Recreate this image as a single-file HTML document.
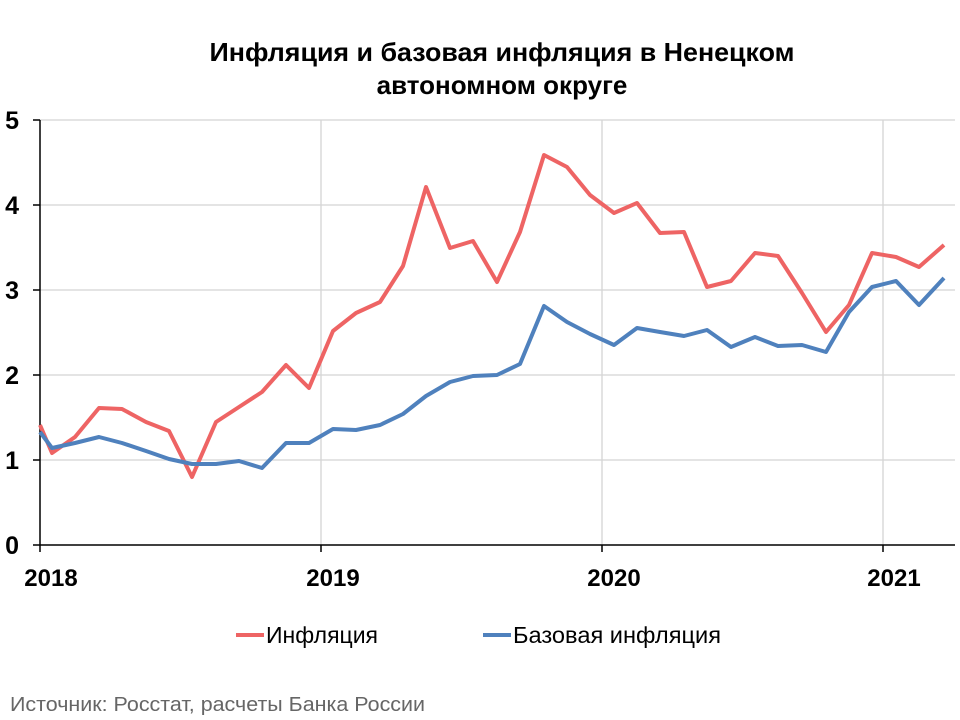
<!DOCTYPE html><html><head><meta charset="utf-8"><style>body{margin:0;background:#fff}svg{display:block}</style></head><body>
<svg width="960" height="720" xmlns="http://www.w3.org/2000/svg" font-family="Liberation Sans, sans-serif">
<text x="502" y="61" font-size="26" font-weight="bold" text-anchor="middle" textLength="585" lengthAdjust="spacingAndGlyphs">Инфляция и базовая инфляция в Ненецком</text>
<text x="502" y="94" font-size="26" font-weight="bold" text-anchor="middle">автономном округе</text>
<g stroke="#d4d4d4" stroke-width="1.3">
<line x1="40" y1="460" x2="955" y2="460"/><line x1="40" y1="375" x2="955" y2="375"/><line x1="40" y1="290" x2="955" y2="290"/><line x1="40" y1="205" x2="955" y2="205"/><line x1="40" y1="120" x2="955" y2="120"/>
<line x1="321" y1="120" x2="321" y2="545"/><line x1="602" y1="120" x2="602" y2="545"/><line x1="883" y1="120" x2="883" y2="545"/>
</g>
<g stroke="#000" stroke-width="1.5">
<line x1="40" y1="120" x2="40" y2="552"/><line x1="33" y1="545" x2="955" y2="545"/>
<line x1="33" y1="460" x2="40" y2="460"/><line x1="33" y1="375" x2="40" y2="375"/><line x1="33" y1="290" x2="40" y2="290"/><line x1="33" y1="205" x2="40" y2="205"/><line x1="33" y1="120" x2="40" y2="120"/>
<line x1="321" y1="545" x2="321" y2="552"/><line x1="602" y1="545" x2="602" y2="552"/><line x1="883" y1="545" x2="883" y2="552"/>
</g>
<g font-size="25" font-weight="bold" text-anchor="end">
<text x="19" y="554">0</text><text x="19" y="469">1</text><text x="19" y="384">2</text><text x="19" y="299">3</text><text x="19" y="214">4</text><text x="19" y="129">5</text>
</g>
<g font-size="24" font-weight="bold" text-anchor="middle">
<text x="51" y="586">2018</text><text x="333" y="586">2019</text><text x="614" y="586">2020</text><text x="894" y="586">2021</text>
</g>
<polyline fill="none" stroke="#ee6464" stroke-width="4" stroke-linejoin="round" points="40,425 52,453 75,437 99,408 122,409 146,422 169,431 192,477 216,422 239,407 262,392 286,365 309,388 333,331 356,313 380,302 403,266 426,187 450,248 473,241 497,282 520,232 544,155 567,167 590,195 614,213 637,203 660,233 684,232 707,287 731,281 755,253 778,256 802,293 826,332 849,305 872,253 896,257 919,267 944,245"/>
<polyline fill="none" stroke="#4f81bd" stroke-width="4" stroke-linejoin="round" points="40,432 52,448 75,443 99,437 122,443 146,451 169,459 192,464 216,464 239,461 262,468 286,443 309,443 333,429 356,430 380,425 403,414 426,396 450,382 473,376 497,375 520,364 544,306 567,322 590,334 614,345 637,328 660,332 684,336 707,330 731,347 755,337 778,346 802,345 826,352 849,312 872,287 896,281 919,305 944,278"/>
<line x1="236" y1="635" x2="264" y2="635" stroke="#ee6464" stroke-width="4"/>
<text x="266" y="643" font-size="23">Инфляция</text>
<line x1="483" y1="635" x2="511" y2="635" stroke="#4f81bd" stroke-width="4"/>
<text x="513" y="643" font-size="23" textLength="208" lengthAdjust="spacingAndGlyphs">Базовая инфляция</text>
<text x="10" y="711" font-size="20" fill="#666" textLength="415" lengthAdjust="spacingAndGlyphs">Источник: Росстат, расчеты Банка России</text>
</svg>
</body></html>
